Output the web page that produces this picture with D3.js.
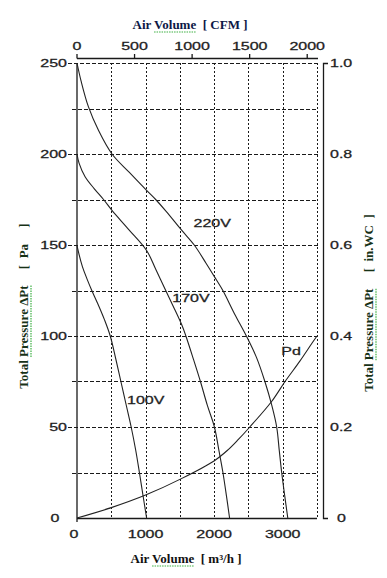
<!DOCTYPE html>
<html>
<head>
<meta charset="utf-8">
<script src="https://cdn.jsdelivr.net/npm/d3@7"></script>
<style>
  html, body { margin: 0; padding: 0; background: #fff; }
  svg { display: block; }
  text.title { white-space: pre; }
</style>
</head>
<body>
<svg id="chart" width="387" height="578"></svg>
<script>
// fan curves, air volume in m3/h and total pressure in Pa
const curve220 = [[0, 250], [60, 240], [166, 226], [313, 213], [510, 200], [760, 190], [1015, 180], [1147, 175], [1300, 168.5], [1529, 158], [1710, 150], [1882, 140], [2030, 131], [2127, 125], [2300, 112], [2470, 100], [2620, 88], [2740, 75], [2840, 62], [2912, 50], [2950, 37], [2985, 25], [3030, 12], [3074, 0]];
const curve170 = [[0, 200], [30, 195], [118, 187.5], [250, 181], [387, 175], [510, 169], [755, 158.5], [1015, 147], [1150, 136.5], [1294, 125], [1420, 115], [1529, 106], [1588, 100], [1700, 87], [1800, 75], [1900, 62], [2004, 50], [2070, 37], [2128, 25], [2180, 12], [2225, 0]];
const curve100 = [[0, 150], [10, 148], [80, 138], [150, 131], [216, 125], [300, 118], [400, 109], [485, 100], [565, 87.5], [640, 75], [715, 62.5], [790, 50], [855, 37.5], [910, 25], [962, 12.5], [1015, 0]];
const curvePd = [[0, 0], [500, 5.7], [1000, 12.6], [1515, 21.5], [2004, 31.5], [2201, 37.4], [2350, 43], [2520, 50], [2838, 64], [3034, 75], [3250, 86.2], [3426, 96], [3500, 100]];

const curveLabels = [
    { text: '220V', at: [1700, 162] },
    { text: '170V', at: [1390, 121] },
    { text: '100V', at: [730, 65] },
    { text: 'Pd', at: [2980, 92] }
];

const paTicks = [0, 50, 100, 150, 200, 250];
const paGrid = [25, 50, 75, 100, 125, 150, 175, 200, 225, 250];
const m3hTicks = [0, 1000, 2000, 3000];
const m3hGrid = [500, 1000, 1500, 2000, 2500, 3000, 3500];
const cfmTicks = [0, 500, 1000, 1500, 2000];
const inwcTicks = [0, 0.2, 0.4, 0.6, 0.8, 1.0];

const svg = d3.select('#chart');
svg.append('rect').attr('width', 387).attr('height', 578).attr('fill', '#fff');

const x = d3.scaleLinear().domain([0, 3500]).range([77, 317]);
const y = d3.scaleLinear().domain([0, 250]).range([518, 63]);
const xCfm = d3.scaleLinear().domain([0, 2085]).range([77, 317]);
const yWc = d3.scaleLinear().domain([0, 1]).range([518, 63]);

const ink = '#1a1a1a';
const numFont = '"Liberation Sans", Arial, sans-serif';

// stretched number labels, like the original scan
function numLabel(g, txt, px, py, anchor) {
    g.append('text')
        .attr('transform', `translate(${px},${py}) scale(1.6,1)`)
        .attr('text-anchor', anchor)
        .attr('font-family', numFont)
        .attr('font-size', 10)
        .attr('fill', '#1e1e1e')
        .attr('stroke', '#1e1e1e')
        .attr('stroke-width', 0.25)
        .text(txt);
}

// grid
const grid = svg.append('g').attr('stroke', ink).attr('stroke-width', 1);
grid.selectAll('line.h').data(paGrid).enter().append('line')
    .attr('x1', d => paTicks.includes(d) ? 68 : 72)
    .attr('x2', x(3500) + 1)
    .attr('y1', d => Math.round(y(d)) + 0.5)
    .attr('y2', d => Math.round(y(d)) + 0.5)
    .attr('stroke-dasharray', '4,2');
grid.selectAll('line.v').data(m3hGrid).enter().append('line')
    .attr('x1', d => Math.round(x(d)) + 0.5)
    .attr('x2', d => Math.round(x(d)) + 0.5)
    .attr('y1', y(250))
    .attr('y2', y(0))
    .attr('stroke-dasharray', '2,2');

// axes lines
const axes = svg.append('g').attr('stroke', ink).attr('stroke-width', 1.3).attr('fill', 'none');
axes.append('line').attr('x1', x(0)).attr('x2', x(0)).attr('y1', y(250)).attr('y2', y(0) + 4);
axes.append('line').attr('x1', x(0)).attr('x2', x(3500)).attr('y1', y(0) + 0.5).attr('y2', y(0) + 0.5);
axes.append('line').attr('x1', x(0)).attr('x2', x(3500) + 1).attr('y1', 58.5).attr('y2', 58.5);
axes.selectAll('line.ct').data(cfmTicks).enter().append('line')
    .attr('x1', d => xCfm(d)).attr('x2', d => xCfm(d))
    .attr('y1', 58.5).attr('y2', 54);
axes.append('path')
    .attr('d', `M328,${yWc(1) + 0.5}H323.5V${yWc(0) + 0.5}H328`);

// tick labels
const labels = svg.append('g');
paTicks.forEach(d => {
    if (d === 0) numLabel(labels, '0', 55, y(d) + 4, 'middle');
    else numLabel(labels, d, 67, y(d) + 4, 'end');
});
m3hTicks.forEach(d => numLabel(labels, d, x(d) - (d === 0 ? 3 : 0), 538, 'middle'));
cfmTicks.forEach(d => numLabel(labels, d, xCfm(d), 49.5, 'middle'));
inwcTicks.forEach(d => numLabel(labels, d === 0 ? '0' : d.toFixed(1), d === 0 ? 337 : 330, yWc(d) + 4, 'start'));

// curves
const line = d3.line().x(d => x(d[0])).y(d => y(d[1])).curve(d3.curveCatmullRom.alpha(0.5));
const curves = svg.append('g').attr('fill', 'none').attr('stroke', '#222').attr('stroke-width', 1.1);
[curve220, curve170, curve100, curvePd].forEach(c => {
    curves.append('path').attr('d', line(c));
});

curveLabels.forEach(l => {
    numLabel(labels, l.text, x(l.at[0]), y(l.at[1]) + 4, 'start');
});

// titles with the green spell-check underline of the source
function title(txt, cx, cy, rotate, color, under) {
    const g = svg.append('g').attr('transform', `translate(${cx},${cy}) rotate(${rotate})`);
    const t = g.append('text')
        .attr('class', 'title')
        .attr('xml:space', 'preserve')
        .attr('text-anchor', 'middle')
        .attr('font-family', '"Liberation Serif", "Times New Roman", serif')
        .attr('font-size', 13)
        .attr('font-weight', 'bold')
        .attr('fill', color)
        .text(txt);
    const node = t.node();
    const i0 = txt.indexOf(under[0]);
    const i1 = txt.indexOf(under[1]) + under[1].length - 1;
    const a = node.getExtentOfChar(i0);
    const b = node.getExtentOfChar(i1);
    g.append('line')
        .attr('x1', a.x).attr('x2', b.x + b.width)
        .attr('y1', 3).attr('y2', 3)
        .attr('stroke', '#3cb043').attr('stroke-width', 1.2)
        .attr('stroke-dasharray', '1.5,1');
}

title('Air Volume  [ CFM ]', 190, 29, 0, '#0d1846', ['Volume', 'Volume']);
title('Air Volume  [ m\u00b3/h ]', 186, 563, 0, '#111', ['Volume', 'Volume']);
title('Total Pressure \u0394Pt     [  Pa     ]', 28, 306, -90, '#173217', ['Pressure', '\u0394Pt']);
title('Total Pressure \u0394Pt     [  in.WC  ]', 373, 303, -90, '#173217', ['Pressure', '\u0394Pt']);
</script>
</body>
</html>
